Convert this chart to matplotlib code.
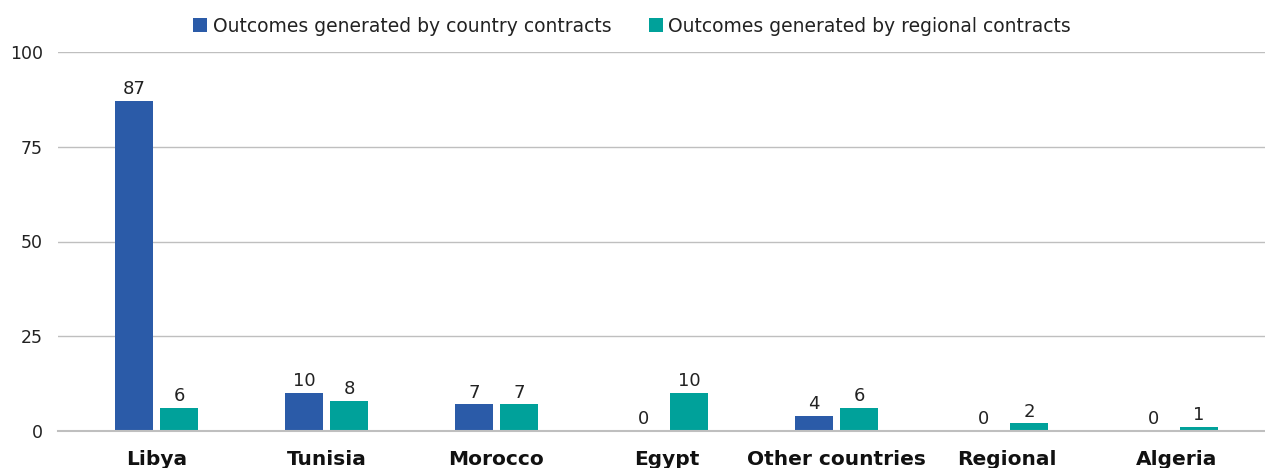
import matplotlib
matplotlib.use("Agg")
import matplotlib.pyplot as plt
import numpy as np

categories = ["Libya", "Tunisia", "Morocco", "Egypt", "Other countries", "Regional", "Algeria"]
country_contracts = [87, 10, 7, 0, 4, 0, 0]
regional_contracts = [6, 8, 7, 10, 6, 2, 1]
series_labels = ["Outcomes generated by country contracts", "Outcomes generated by regional contracts"]
yticks = [0, 25, 50, 75, 100]

blue = "#2B5BA8"
teal = "#00A19A"

plt.rcParams['font.family'] = ['DejaVu Sans']

W, H = 1265, 468
fig = plt.figure(figsize=(W / 100, H / 100), dpi=100)
ax = fig.add_axes([58 / W, (H - 431) / H, (1265 - 58) / W, (431 - 52) / H])

x = np.arange(len(categories))
bw = 0.2235
off = 0.1325
b1 = ax.bar(x - off, country_contracts, bw, color=blue, label=series_labels[0], zorder=3)
b2 = ax.bar(x + off, regional_contracts, bw, color=teal, label=series_labels[1], zorder=3)

for bars, vals in ((b1, country_contracts), (b2, regional_contracts)):
    for r, v in zip(bars, vals):
        ax.annotate(str(v), (r.get_x() + r.get_width() / 2, v), xytext=(0, 2),
                    textcoords="offset points", ha="center", va="bottom",
                    fontsize=13, color="#222222")

ax.set_xlim((58 - 156.5) / 170, (1265 - 156.5) / 170)
ax.set_ylim(0, 100)
ax.set_yticks(yticks)
ax.set_yticklabels([str(t) for t in yticks], fontsize=12.5, color="#222222")
ax.set_xticks(x)
ax.set_xticklabels(categories, fontsize=14.5, fontweight="bold", color="#111111")
ax.tick_params(axis="both", length=0)
ax.tick_params(axis="y", pad=11)
ax.tick_params(axis="x", pad=14)
ax.yaxis.grid(True, color="#BFBFBF", linewidth=1, zorder=0)
for s in ["top", "right", "left"]:
    ax.spines[s].set_visible(False)
ax.spines["bottom"].set_color("#BFBFBF")
ax.spines["bottom"].set_linewidth(1.5)
ax.spines["bottom"].set_zorder(4)

fig.legend(handles=[b1, b2], labels=series_labels, loc="center", bbox_to_anchor=(632 / W, 1 - 26 / H),
           ncol=2, frameon=False, fontsize=13.5, handlelength=0.75, handleheight=0.75,
           handletextpad=0.3, columnspacing=2.0, borderaxespad=0)
for t in fig.legends[0].get_texts():
    t.set_color("#222222")

fig.savefig("out.png", dpi=100)
